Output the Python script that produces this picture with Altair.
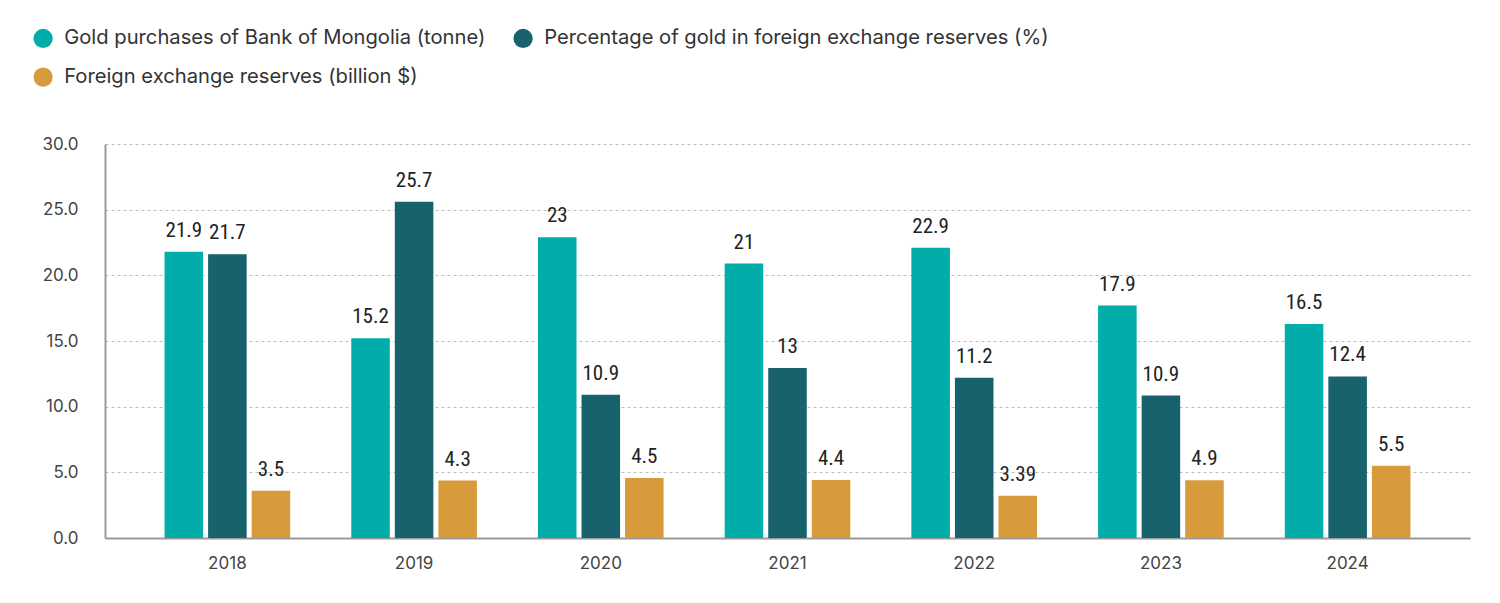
import altair as alt
import pandas as pd

years = ["2018", "2019", "2020", "2021", "2022", "2023", "2024"]
series = [
    "Gold purchases of Bank of Mongolia (tonne)",
    "Percentage of gold in foreign exchange reserves (%)",
    "Foreign exchange reserves (billion $)",
]
colors = ["#00ADA9", "#17626C", "#D89B3C"]

# bar heights as drawn
gold_tonne = [21.8, 15.2, 22.9, 20.9, 22.1, 17.7, 16.3]
gold_pct = [21.6, 25.6, 10.9, 12.95, 12.2, 10.85, 12.3]
fx_reserves = [3.6, 4.37, 4.57, 4.42, 3.22, 4.39, 5.5]

# labels as printed
gold_tonne_lbl = ["21.9", "15.2", "23", "21", "22.9", "17.9", "16.5"]
gold_pct_lbl = ["21.7", "25.7", "10.9", "13", "11.2", "10.9", "12.4"]
fx_reserves_lbl = ["3.5", "4.3", "4.5", "4.4", "3.39", "4.9", "5.5"]

rows = []
for s_i, (vals, lbls) in enumerate(
    [(gold_tonne, gold_tonne_lbl), (gold_pct, gold_pct_lbl), (fx_reserves, fx_reserves_lbl)]
):
    for y, v, l in zip(years, vals, lbls):
        rows.append({"year": y, "series": series[s_i], "order": s_i, "value": v, "label": l})
df = pd.DataFrame(rows)

x_enc = alt.X(
    "year:N",
    sort=years,
    title=None,
    scale=alt.Scale(paddingInner=0.327, paddingOuter=0.319),
    axis=alt.Axis(
        labelAngle=0,
        labelFont="Inter",
        labelFontSize=17,
        labelColor="#444444",
        labelPadding=17,
        ticks=False,
        domainColor="#9a9a9a",
        domainWidth=2,
        grid=False,
    ),
)
xoff = alt.XOffset(
    "series:N",
    sort=series,
    scale=alt.Scale(paddingInner=0.115, paddingOuter=0),
)
y_enc = alt.Y(
    "value:Q",
    title=None,
    scale=alt.Scale(domain=[0, 30], nice=False),
    axis=alt.Axis(
        values=[0, 5, 10, 15, 20, 25, 30],
        format=".1f",
        labelFont="Inter",
        labelFontSize=17,
        labelColor="#444444",
        labelPadding=27,
        ticks=False,
        domainColor="#9a9a9a",
        domainWidth=2,
        grid=True,
        gridColor="#bdbdbd",
        gridDash=[3, 3],
        gridWidth=1,
    ),
)

bars = alt.Chart(df).mark_bar().encode(
    x=x_enc,
    xOffset=xoff,
    y=y_enc,
    color=alt.Color(
        "series:N",
        sort=series,
        scale=alt.Scale(domain=series, range=colors),
        legend=alt.Legend(
            title=None,
            orient="none",
            legendX=-72,
            legendY=-116,
            columns=2,
            direction="horizontal",
            symbolType="circle",
            symbolSize=370,
            symbolStrokeWidth=0,
            symbolOpacity=1,
            labelFont="Inter",
            labelFontSize=20.2,
            labelColor="#333333",
            labelOffset=11,
            labelLimit=0,
            rowPadding=18,
            columnPadding=27,
            padding=0,
        ),
    ),
)

labels = alt.Chart(df).mark_text(
    baseline="alphabetic",
    align="center",
    dy=-15,
    font="Roboto Condensed, Open Sans Condensed, Noto Sans Condensed, Liberation Sans Narrow, DejaVu Sans Condensed",
    fontSize=21,
    color="#222222",
).encode(
    x=alt.X("year:N", sort=years),
    xOffset=alt.XOffset("series:N", sort=series),
    y=alt.Y("value:Q"),
    text="label:N",
)

chart = (
    alt.layer(bars, labels)
    .properties(
        width=1365,
        height=394,
        autosize=alt.AutoSizeParams(type="none"),
        padding={"left": 97, "top": 136, "right": 22, "bottom": 45},
        background="white",
    )
    .configure_view(stroke=None)
)

chart.save("out.html", embed_options={"renderer": "svg", "actions": False})
